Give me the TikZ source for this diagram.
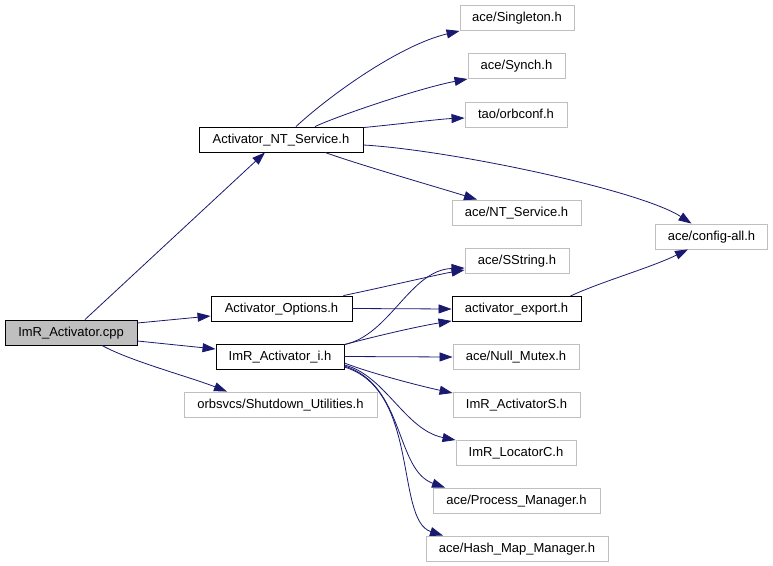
\documentclass[tikz,border=0pt]{standalone}
\usepackage{fontspec}
\setmainfont{Liberation Sans}
\usetikzlibrary{arrows.meta}
\definecolor{edgecol}{HTML}{191970}
\definecolor{grayline}{HTML}{BFBFBF}
\definecolor{grayfill}{HTML}{BFBFBF}
\tikzset{
  box/.style={draw=black, line width=0.9pt, inner sep=0pt, minimum height=25pt, text height=9.6pt, text depth=2.2pt, font=\fontsize{13}{15}\selectfont, text=black},
  extbox/.style={box, draw=grayline},
  mainbox/.style={box, fill=grayfill},
  edge/.style={draw=edgecol, line width=0.8pt, -{Triangle[length=13pt,width=9pt]}},
}
\begin{document}
\begin{tikzpicture}[x=1pt,y=-1pt]
\useasboundingbox (0,0) rectangle (773,565);
% nodes
\node[mainbox, minimum width=132pt] (cpp) at (71,332.5) {ImR\_Activator.cpp};
\node[box, minimum width=164pt] (nt) at (281,139.5) {Activator\_NT\_Service.h};
\node[box, minimum width=141pt] (opt) at (281.5,308.5) {Activator\_Options.h};
\node[box, minimum width=128pt] (impl) at (280,356.5) {ImR\_Activator\_i.h};
\node[extbox, minimum width=193pt] (shut) at (280.5,404.5) {orbsvcs/Shutdown\_Utilities.h};
\node[extbox, minimum width=114pt] (single) at (517,18) {ace/Singleton.h};
\node[extbox, minimum width=97pt] (synch) at (516.5,66) {ace/Synch.h};
\node[extbox, minimum width=102pt] (orbconf) at (516,114.5) {tao/orbconf.h};
\node[extbox, minimum width=129pt] (acent) at (516.5,212.5) {ace/NT\_Service.h};
\node[extbox, minimum width=112pt] (config) at (711.5,236.5) {ace/config-all.h};
\node[extbox, minimum width=104pt] (sstring) at (517,260.5) {ace/SString.h};
\node[box, minimum width=129pt] (export) at (516.5,309) {activator\_export.h};
\node[extbox, minimum width=126pt] (nullm) at (516,357) {ace/Null\_Mutex.h};
\node[extbox, minimum width=127pt] (acts) at (516.5,405) {ImR\_ActivatorS.h};
\node[extbox, minimum width=120pt] (locc) at (516,453) {ImR\_LocatorC.h};
\node[extbox, minimum width=167pt] (procm) at (516.5,500.5) {ace/Process\_Manager.h};
\node[extbox, minimum width=182pt] (hashm) at (517,548.5) {ace/Hash\_Map\_Manager.h};
% edges from cpp
\draw[edge] ([xshift=14pt]cpp.north) -- ([xshift=-16pt]nt.south);
\draw[edge] ([yshift=9.5pt]cpp.east) -- ([yshift=-7.5pt]opt.west);
\draw[edge] ([yshift=-8.5pt]cpp.east) -- ([yshift=7.5pt]impl.west);
\draw[edge] ([xshift=31pt]cpp.south) .. controls (130,361) and (190,377) .. ([xshift=-53.5pt]shut.north);
% edges from nt
\draw[edge] ([xshift=15pt]nt.north) .. controls (330,95) and (400,45) .. (single.south west);
\draw[edge] ([xshift=34pt]nt.north) .. controls (340,115) and (420,88) .. (synch.south west);
\draw[edge] ([yshift=-1pt]nt.north east) .. controls (400,124) and (440,119) .. ([yshift=-3.5pt]orbconf.west);
\draw[edge] ([yshift=-5.5pt]nt.east) .. controls (450,150) and (640,190) .. ([xshift=-20pt]config.north);
\draw[edge] ([xshift=44pt]nt.south) .. controls (360,165) and (440,188) .. ([xshift=-39.5pt]acent.north);
% edges from opt
\draw[edge] ([xshift=-9pt]opt.north east) .. controls (380,288) and (440,274) .. ([yshift=-9.5pt]sstring.west);
\draw[edge] (opt.east) -- (export.west);
% export -> config
\draw[edge] ([xshift=-11pt]export.north east) .. controls (600,282) and (650,268) .. ([xshift=-23.5pt]config.south);
% edges from impl
\draw[edge] ([yshift=-1pt]impl.north east) .. controls (390,335) and (410,270) .. ([yshift=-7.5pt]sstring.west);
\draw[edge] ([yshift=-1pt]impl.north east) .. controls (380,335) and (420,326) .. ([yshift=1pt]export.south west);
\draw[edge] (impl.east) -- (nullm.west);
\draw[edge] ([yshift=-6.5pt]impl.east) .. controls (370,373) and (420,386) .. ([yshift=12pt]acts.west);
\draw[edge] ([yshift=-8.5pt]impl.east) .. controls (385,375) and (405,430) .. (locc.north west);
\draw[edge] ([yshift=-9.5pt]impl.east) .. controls (405,385) and (395,470) .. ([xshift=-71.5pt]procm.north);
\draw[edge] ([yshift=-10.5pt]impl.east) .. controls (420,390) and (395,520) .. ([xshift=-74pt]hashm.north);
\end{tikzpicture}
\end{document}
